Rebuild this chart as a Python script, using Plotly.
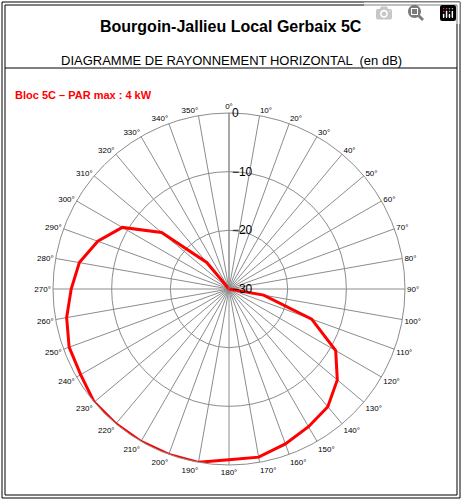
import plotly.graph_objects as go

angles = list(range(0, 360, 10))
# dB values (0..350 deg)
levels = [-30, -30, -30, -30, -30, -30, -30, -30, -30, -30,   # 0-90
          -24, -15, -9, -5.9, -3.8, -2.9, -1.9, -0.9, -0.9,   # 100-180
          0, 0, 0, 0, 0, -0.8, -1.0, -1.9, -3.1, -4.1, -6.2,    # 190-290
          -9, -15, -24.1, -30, -30, -30]                        # 300-350
tick_labels = [f"{a}°" for a in angles]
r_ticks = [-30, -20, -10, 0]

W, H = 462, 500
fig = go.Figure(go.Scatterpolar(r=levels + [levels[0]], theta=angles + [angles[0]], mode="lines",
                                line=dict(color="#ff0000", width=3), showlegend=False))
cx, cy, R = 229, 289, 176
fig.update_layout(
    width=W, height=H, margin=dict(l=0, r=0, t=0, b=0),
    paper_bgcolor="white", plot_bgcolor="white",
    font=dict(family="Liberation Sans, Arial", color="black"),
    polar=dict(
        domain=dict(x=[(cx - R) / W, (cx + R) / W], y=[1 - (cy + R) / H, 1 - (cy - R) / H]),
        bgcolor="white",
        angularaxis=dict(direction="clockwise", rotation=90, tickmode="array", tickvals=angles,
                         ticktext=tick_labels, tickfont=dict(size=8), gridcolor="#8c8c8c",
                         linecolor="#8c8c8c", showline=True, ticks=""),
        radialaxis=dict(range=[-30, 0], tickvals=r_ticks, angle=90, tickangle=90,
                        tickfont=dict(size=12), gridcolor="#8c8c8c", linecolor="#8c8c8c",
                        showline=True, ticks="", side="clockwise"),
    ),
    shapes=[
        dict(type="rect", xref="paper", yref="paper", x0=2/W, x1=1-2/W, y0=2/H, y1=1-2/H,
             line=dict(color="black", width=1)),
        dict(type="rect", xref="paper", yref="paper", x0=5/W, x1=1-5/W, y0=5/H, y1=1-5/H,
             line=dict(color="black", width=1)),
        dict(type="line", xref="paper", yref="paper", x0=5/W, x1=1-5/W, y0=1-68/H, y1=1-68/H,
             line=dict(color="black", width=1)),
    ],
    annotations=[
        dict(text="<b>Bourgoin-Jallieu Local Gerbaix 5C</b>", x=0.5, y=1-16/H, xref="paper", yref="paper",
             showarrow=False, font=dict(size=16)),
        dict(text="DIAGRAMME DE RAYONNEMENT HORIZONTAL  (en dB)", x=0.5, y=1-51/H, xref="paper", yref="paper",
             showarrow=False, font=dict(size=13)),
        dict(text="<b>Bloc 5C – PAR max : 4 kW</b>", x=13/W, y=1-87/H, xref="paper", yref="paper",
             xanchor="left", showarrow=False, font=dict(size=11, color="#ff0000")),
    ],
)
fig.write_html("out.html", post_script="document.body.style.margin='0';")
